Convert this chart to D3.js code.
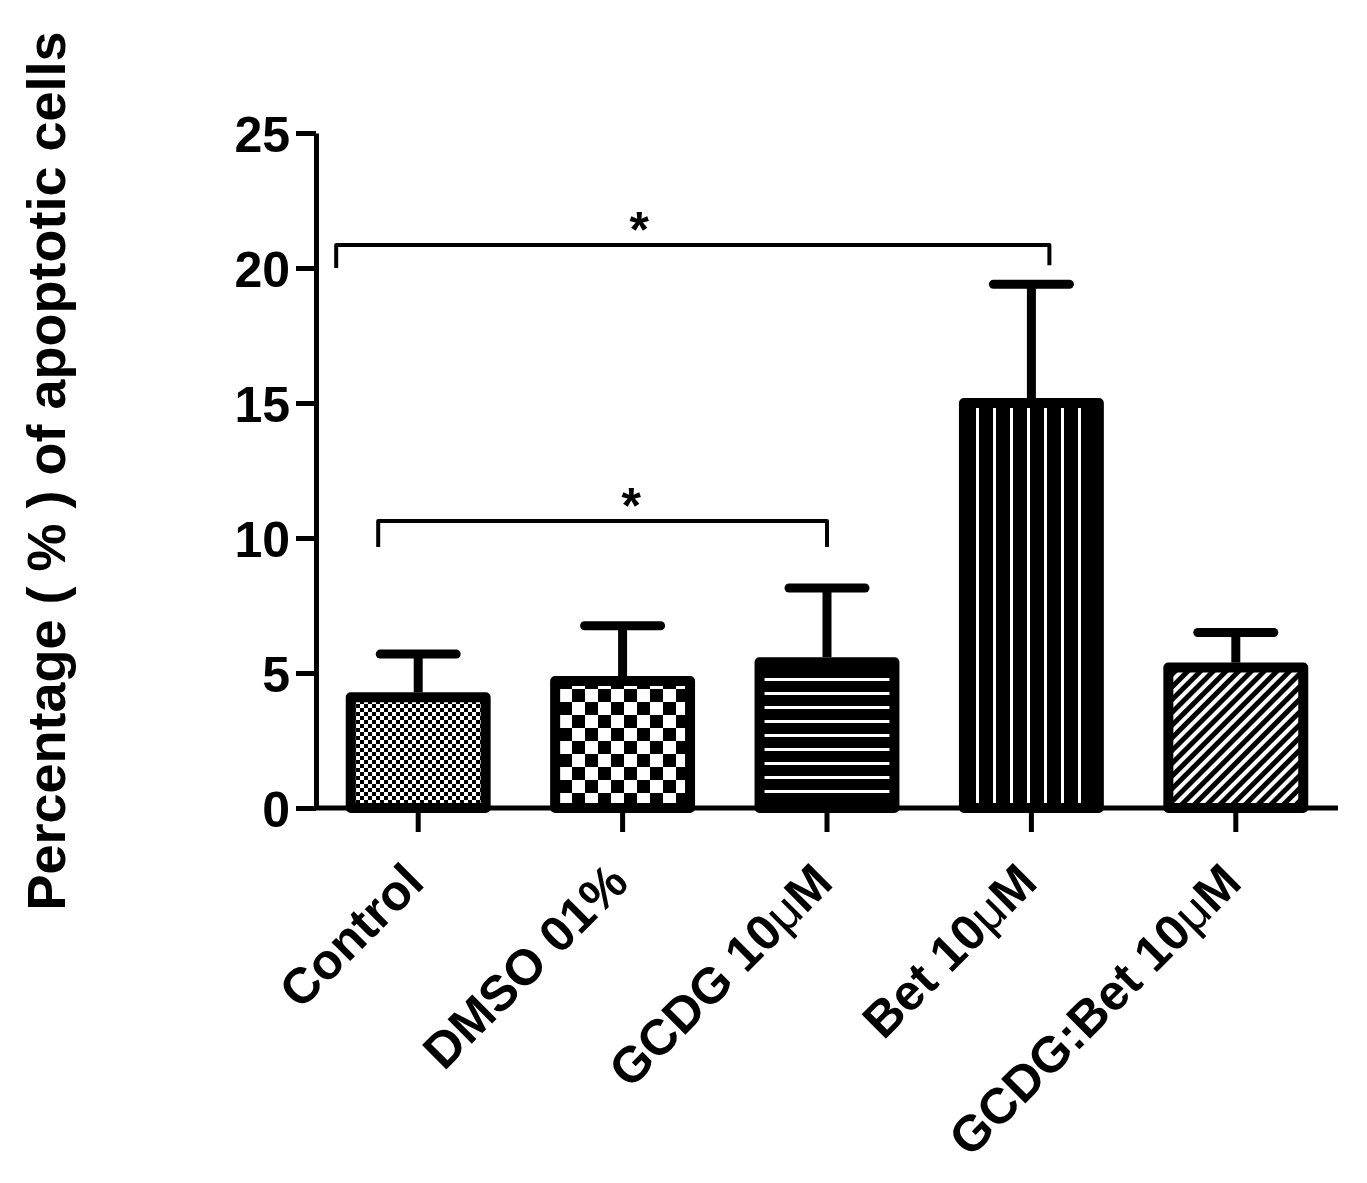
<!DOCTYPE html>
<html>
<head>
<meta charset="utf-8">
<script src="https://cdn.jsdelivr.net/npm/d3@7"></script>
<style>
	body { margin: 0; background: #fff; }
	text { font-family: "Liberation Sans", Arial, sans-serif; font-weight: bold; fill: #000; }
</style>
</head>
<body>
<div id="chart"></div>
<script>
// groups + values
var groups = ['Control', 'DMSO 01%', 'GCDG 10μM', 'Bet 10μM', 'GCDG:Bet 10μM'];
var means = [4.1, 4.7, 5.4, 15.0, 5.2];
var errors = [1.6, 2.05, 2.75, 4.4, 1.3];
var patterns = ['checkSmall', 'checkBig', 'hLines', 'vLines', 'diag'];
var yTicks = [0, 5, 10, 15, 20, 25];

// significance brackets: group index from/to, level of bar and legs
var sigFrom = [0, 0];
var sigTo = [3, 2];
var sigLevel = [20.85, 10.63];
var sigLegFrom = [20.0, 9.67];
var sigLegTo = [20.1, 9.67];
var sigLabel = ['*', '*'];

var width = 1367;
var height = 1183;

var svg = d3.select('#chart').append('svg')
	.attr('width', width)
	.attr('height', height);

var defs = svg.append('defs');

// fill patterns, all black ground with white marks
function addPattern(id, w, h, draw) {
	var p = defs.append('pattern')
		.attr('id', id)
		.attr('patternUnits', 'userSpaceOnUse')
		.attr('width', w)
		.attr('height', h);
	p.append('rect').attr('width', w).attr('height', h).attr('fill', '#000');
	draw(p);
	return p;
}

addPattern('checkSmall', 8, 8, function (p) {
	p.append('rect').attr('x', 0).attr('y', 0).attr('width', 4).attr('height', 4).attr('fill', '#fff');
	p.append('rect').attr('x', 4).attr('y', 4).attr('width', 4).attr('height', 4).attr('fill', '#fff');
});
addPattern('checkBig', 26, 26, function (p) {
	p.append('rect').attr('x', 0).attr('y', 0).attr('width', 13).attr('height', 13).attr('fill', '#fff');
	p.append('rect').attr('x', 13).attr('y', 13).attr('width', 13).attr('height', 13).attr('fill', '#fff');
});
addPattern('hLines', 14, 14, function (p) {
	p.append('rect').attr('x', 0).attr('y', 6).attr('width', 14).attr('height', 3).attr('fill', '#fff');
});
addPattern('vLines', 17, 17, function (p) {
	p.append('rect').attr('x', 7).attr('y', 0).attr('width', 3).attr('height', 17).attr('fill', '#fff');
});
addPattern('diag', 9, 9, function (p) {
	p.append('rect').attr('x', 3).attr('y', 0).attr('width', 4).attr('height', 9).attr('fill', '#fff');
}).attr('patternTransform', 'rotate(45)');

var x = d3.scaleBand()
	.domain(groups)
	.range([316, 1338])
	.paddingInner(0.34)
	.paddingOuter(0.17);

var y = d3.scaleLinear()
	.domain([0, 25])
	.range([808, 133]);

// bars
svg.selectAll('.bar')
	.data(groups)
	.enter().append('rect')
	.attr('class', 'bar')
	.attr('x', function (d) { return x(d); })
	.attr('y', function (d, i) { return y(means[i]); })
	.attr('width', x.bandwidth())
	.attr('height', function (d, i) { return y(0) - y(means[i]); })
	.attr('fill', function (d, i) { return 'url(#' + patterns[i] + ')'; })
	.attr('stroke', '#000')
	.attr('stroke-width', 10)
	.attr('stroke-linejoin', 'round');

// upper error bars
var capW = 76;
var err = svg.selectAll('.err').data(groups).enter().append('g').attr('class', 'err');
err.append('line')
	.attr('x1', function (d) { return x(d) + x.bandwidth() / 2; })
	.attr('x2', function (d) { return x(d) + x.bandwidth() / 2; })
	.attr('y1', function (d, i) { return y(means[i]) - 5; })
	.attr('y2', function (d, i) { return y(means[i] + errors[i]); })
	.attr('stroke', '#000')
	.attr('stroke-width', 9);
err.append('line')
	.attr('x1', function (d) { return x(d) + x.bandwidth() / 2 - capW / 2; })
	.attr('x2', function (d) { return x(d) + x.bandwidth() / 2 + capW / 2; })
	.attr('y1', function (d, i) { return y(means[i] + errors[i]); })
	.attr('y2', function (d, i) { return y(means[i] + errors[i]); })
	.attr('stroke', '#000')
	.attr('stroke-width', 9)
	.attr('stroke-linecap', 'round');

// y axis
var yAxis = svg.append('g')
	.attr('transform', 'translate(316,0)')
	.call(d3.axisLeft(y).tickValues(yTicks).tickSizeInner(20).tickSizeOuter(0).tickPadding(6));
yAxis.select('.domain').attr('stroke-width', 5);
yAxis.selectAll('.tick line').attr('stroke-width', 5);
yAxis.selectAll('.tick text')
	.attr('font-family', '"Liberation Sans", Arial, sans-serif')
	.attr('font-weight', 'bold')
	.attr('font-size', 50)
	.attr('dy', '0.36em');

// x axis
var xAxis = svg.append('g')
	.attr('transform', 'translate(0,808)')
	.call(d3.axisBottom(x).tickSizeInner(24).tickSizeOuter(0).tickFormat(''));
xAxis.select('.domain').attr('stroke-width', 5).attr('d', 'M314,0H1338');
xAxis.selectAll('.tick line').attr('stroke-width', 5);

// rotated category labels, micro sign in plain weight
var xl = svg.selectAll('.xlab').data(groups).enter().append('text')
	.attr('class', 'xlab')
	.attr('font-size', 50)
	.attr('text-anchor', 'end')
	.attr('transform', function (d) {
		return 'translate(' + (x(d) + x.bandwidth() / 2 + 8) + ',885) rotate(-45)';
	});
xl.each(function (d) {
	var t = d3.select(this);
	var parts = d.split('μ');
	t.append('tspan').text(parts[0]);
	if (parts.length > 1) {
		t.append('tspan').attr('font-weight', 'normal').text('μ');
		t.append('tspan').text(parts[1]);
	}
});

// y label
svg.append('text')
	.attr('font-size', 54)
	.attr('text-anchor', 'middle')
	.attr('transform', 'translate(65,471) rotate(-90)')
	.text('Percentage ( % ) of apoptotic cells');

// significance brackets
var legOffL = [-82, -40];
var legOffR = [18, 0];
var starAt = [0.425, 0.564];
sigFrom.forEach(function (f, i) {
	var x1 = x(groups[f]) + x.bandwidth() / 2 + legOffL[i];
	var x2 = x(groups[sigTo[i]]) + x.bandwidth() / 2 + legOffR[i];
	svg.append('path')
		.attr('d', 'M' + x1 + ',' + y(sigLegFrom[i]) + 'V' + y(sigLevel[i]) + 'H' + x2 + 'V' + y(sigLegTo[i]))
		.attr('fill', 'none')
		.attr('stroke', '#000')
		.attr('stroke-width', 4)
		.attr('stroke-linejoin', 'round');
	svg.append('text')
		.attr('x', x1 + (x2 - x1) * starAt[i])
		.attr('y', y(sigLevel[i]) + 2)
		.attr('text-anchor', 'middle')
		.attr('font-size', 50)
		.text(sigLabel[i]);
});
</script>
</body>
</html>
